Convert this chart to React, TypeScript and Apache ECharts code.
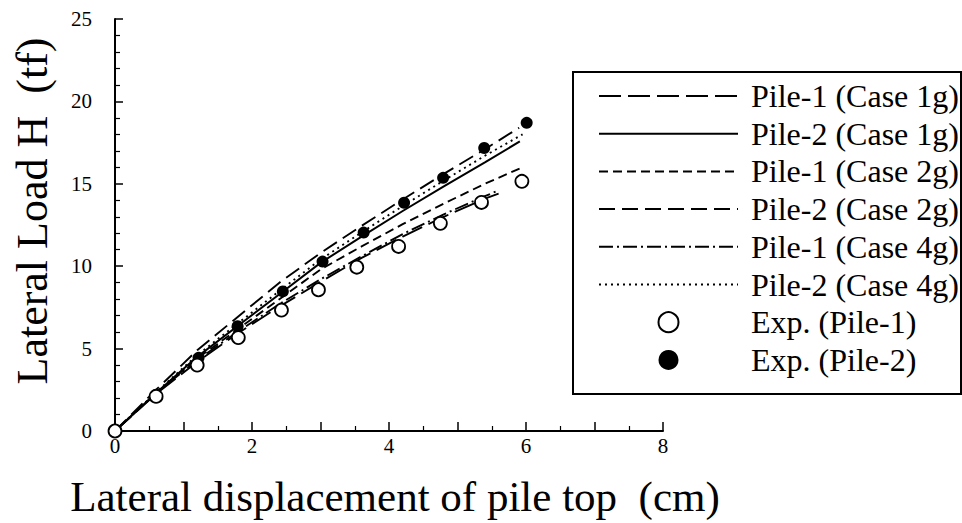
import React, { useEffect, useRef } from "react";
import * as echarts from "echarts";

// Model curves: [lateral displacement (cm), lateral load (tf)]
const pile1Case1g = [[0, 0], [0.6, 2.25], [1.2, 4.2], [1.8, 5.95], [2.4, 7.55], [3.0, 9.05], [3.6, 10.5], [4.2, 11.8], [4.8, 13.0], [5.4, 14.1], [5.6, 14.4]];
const pile2Case1g = [[0, 0], [0.6, 2.3], [1.2, 4.5], [1.8, 6.4], [2.4, 8.3], [3.0, 10.2], [3.6, 11.8], [4.2, 13.35], [4.8, 14.85], [5.4, 16.3], [5.91, 17.57]];
const pile1Case2g = [[0, 0], [0.6, 2.3], [1.2, 4.4], [1.8, 6.2], [2.4, 8.0], [3.0, 9.8], [3.6, 11.2], [4.2, 12.55], [4.8, 13.8], [5.4, 15.0], [5.95, 16.0]];
const pile2Case2g = [[0, 0], [0.6, 2.5], [1.2, 4.9], [1.8, 6.95], [2.4, 9.0], [3.0, 10.8], [3.6, 12.45], [4.2, 14.05], [4.8, 15.6], [5.4, 17.1], [5.9, 18.4]];
const pile1Case4g = [[0, 0], [0.6, 2.3], [1.2, 4.3], [1.8, 6.05], [2.4, 7.7], [3.0, 9.2], [3.6, 10.6], [4.2, 11.95], [4.8, 13.15], [5.4, 14.25], [5.6, 14.6]];
const pile2Case4g = [[0, 0], [0.6, 2.35], [1.2, 4.6], [1.8, 6.55], [2.4, 8.5], [3.0, 10.4], [3.6, 12.05], [4.2, 13.65], [4.8, 15.2], [5.4, 16.7], [5.95, 18.0]];

// Experiments
const expPile1 = [[0, 0], [0.6, 2.1], [1.2, 4.0], [1.8, 5.67], [2.43, 7.34], [2.97, 8.57], [3.53, 9.94], [4.14, 11.2], [4.75, 12.6], [5.35, 13.87], [5.94, 15.15]];
const expPile2 = [[0, 0], [0.6, 2.2], [1.22, 4.44], [1.79, 6.36], [2.45, 8.47], [3.03, 10.28], [3.63, 12.04], [4.22, 13.85], [4.79, 15.36], [5.39, 17.17], [6.01, 18.7]];

const seriesNames = [
  "Pile-1 (Case 1g)",
  "Pile-2 (Case 1g)",
  "Pile-1 (Case 2g)",
  "Pile-2 (Case 2g)",
  "Pile-1 (Case 4g)",
  "Pile-2 (Case 4g)",
  "Exp. (Pile-1)",
  "Exp. (Pile-2)",
];

const xTitle = "Lateral displacement of pile top  (cm)";
const yTitle = "Lateral Load H  (tf)";

const FONT = "'Liberation Serif', 'DejaVu Serif', serif";

export default function App() {
  const ref = useRef<HTMLDivElement>(null);

  useEffect(() => {
    if (!ref.current) return;
    const chart = echarts.init(ref.current, undefined, { renderer: "svg" });

    const lineSeries = (name: string, data: number[][], type: any, width = 1.9) => ({
      name,
      type: "line",
      data,
      symbol: "none",
      showSymbol: false,
      clip: false,
      z: 2,
      lineStyle: { color: "#000", width, type },
      itemStyle: { color: "#000" },
    });

    const legendData = seriesNames.map((name, i) =>
      i < 6 ? { name, itemStyle: { opacity: 0 } } : { name }
    );

    chart.setOption({
      animation: false,
      backgroundColor: "#fff",
      grid: { left: 115, right: 299, top: 19, bottom: 89.5 },
      xAxis: {
        type: "value",
        min: 0,
        max: 8,
        interval: 1,
        axisLine: { show: true, lineStyle: { color: "#000", width: 2 } },
        axisTick: { show: true, inside: true, length: 9, lineStyle: { color: "#000", width: 1.5 } },
        minorTick: { show: true, splitNumber: 2, length: 5, lineStyle: { color: "#000", width: 1.2 } },
        splitLine: { show: false },
        axisLabel: {
          color: "#000",
          fontFamily: FONT,
          fontSize: 21,
          margin: 4,
          formatter: (v: number) => (v % 2 === 0 ? String(v) : ""),
        },
        name: xTitle,
        nameLocation: "middle",
        nameGap: 44,
        nameTextStyle: { color: "#000", fontFamily: FONT, fontSize: 43, padding: [0, 0, 0, 12] },
      },
      yAxis: {
        type: "value",
        min: 0,
        max: 25,
        interval: 5,
        axisLine: { show: true, lineStyle: { color: "#000", width: 2 } },
        axisTick: { show: true, inside: true, length: 8, lineStyle: { color: "#000", width: 1.5 } },
        minorTick: { show: true, splitNumber: 5, length: 5, lineStyle: { color: "#000", width: 1.2 } },
        splitLine: { show: false },
        axisLabel: { color: "#000", fontFamily: FONT, fontSize: 21, margin: 23 },
        name: yTitle,
        nameLocation: "middle",
        nameGap: 61,
        nameTextStyle: { color: "#000", fontFamily: FONT, fontSize: 44, padding: [0, 0, 0, 28] },
      },
      legend: {
        orient: "vertical",
        left: 598,
        top: 80,
        padding: 0,
        itemWidth: 139,
        itemHeight: 20,
        itemGap: 5.7,
        data: legendData,
        textStyle: { color: "#000", fontFamily: FONT, fontSize: 32, padding: [0, 0, 0, 8] },
      },
      graphic: [
        {
          type: "rect",
          shape: { x: 573, y: 72, width: 388, height: 322 },
          style: { fill: "none", stroke: "#000", lineWidth: 2 },
          silent: true,
        },
      ],
      series: [
        lineSeries(seriesNames[0], pile1Case1g, [22, 7]),
        lineSeries(seriesNames[1], pile2Case1g, "solid", 2),
        lineSeries(seriesNames[2], pile1Case2g, [9, 5]),
        lineSeries(seriesNames[3], pile2Case2g, [16, 7]),
        lineSeries(seriesNames[4], pile1Case4g, [14, 4, 2, 4]),
        lineSeries(seriesNames[5], pile2Case4g, [2, 4]),
        {
          name: seriesNames[6],
          type: "scatter",
          data: expPile1,
          symbol: "circle",
          symbolSize: 13,
          clip: false,
          z: 4,
          itemStyle: { color: "#fff", borderColor: "#000", borderWidth: 1.8, opacity: 1 },
        },
        {
          name: seriesNames[7],
          type: "scatter",
          data: expPile2,
          symbol: "circle",
          symbolSize: 12,
          clip: false,
          z: 3,
          itemStyle: { color: "#000", borderColor: "#000", borderWidth: 0, opacity: 1 },
        },
      ],
    });

    return () => chart.dispose();
  }, []);

  return (
    <div
      ref={ref}
      style={{ position: "absolute", left: 0, top: 0, width: 962, height: 523, background: "#fff" }}
    />
  );
}
